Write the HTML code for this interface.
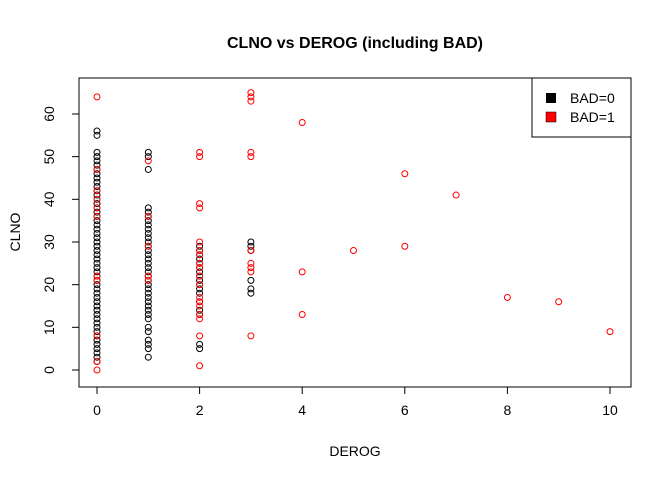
<!DOCTYPE html>
<html><head><meta charset="utf-8"><style>
body{margin:0;background:#fff}
svg{display:block;font-family:"Liberation Sans",Arial,sans-serif}
</style></head><body>
<svg id="chart" width="672" height="480">
<rect width="672" height="480" fill="#fff"/>
<text x="355" y="48" text-anchor="middle" font-size="16" font-weight="bold">CLNO vs DEROG (including BAD)</text>
<rect x="79" y="78" width="552" height="309" fill="none" stroke="#000"/>
<g id="xaxis"></g>
<g id="yaxis"></g>
<text x="355" y="456" text-anchor="middle" font-size="14">DEROG</text>
<text transform="translate(20,232) rotate(-90)" text-anchor="middle" font-size="14">CLNO</text>
<g id="points"></g>
<g>
<rect x="532" y="78" width="99" height="59" fill="#fff" stroke="#000"/>
<g><rect x="546" y="93" width="10" height="10" fill="#000"/><text x="570" y="103" font-size="14">BAD=0</text></g>
<g><rect x="546" y="112" width="10" height="10" fill="#f00" stroke="#000" stroke-width="0.5"/><text x="570" y="122" font-size="14">BAD=1</text></g>
</g>
</svg>
<script>
const xTicks=[0,2,4,6,8,10];
const yTicks=[0,10,20,30,40,50,60];
const black0=[2,3,4,5,6,7,8,9,10,11,12,13,14,15,16,17,18,19,20,21,22,23,24,25,26,27,28,29,30,31,32,33,34,35,36,37,38,39,40,41,42,43,44,45,46,47,48,49,50,51,55,56];
const red0=[0,2,8,21,22,36,38,40,42,47,64];
const black1=[3,5,6,7,9,10,12,13,14,15,16,17,18,19,20,21,22,23,24,25,26,27,28,29,30,31,32,33,34,35,36,37,38,47,50,51];
const red1=[21,22,29,36,49];
const black2=[5,6,13,14,16,18,19,20,21,22,23,24,25,26,27,28,29];
const red2=[1,8,12,13,15,16,17,20,22,24,25,27,28,30,38,39,50,51];
const black3=[18,19,21,28,29,30];
const red3=[8,23,24,25,28,50,51,63,64,65];
const blackOther=[];
const redOtherX=[4,4,4,5,6,6,7,8,9,10];
const redOtherY=[13,23,58,28,29,46,41,17,16,9];
const NS="http://www.w3.org/2000/svg";
const xs=v=>97+v*51.3, ys=v=>370-v*4.267;
const xa=document.getElementById('xaxis'), ya=document.getElementById('yaxis'), pg=document.getElementById('points');
function mk(t,a,p){const e=document.createElementNS(NS,t);for(const k in a)e.setAttribute(k,a[k]);p.appendChild(e);return e;}
mk('line',{x1:xs(0),x2:xs(10),y1:387,y2:387,stroke:'#000'},xa);
xTicks.forEach(t=>{mk('line',{x1:xs(t),x2:xs(t),y1:387,y2:394,stroke:'#000'},xa);
const tx=mk('text',{x:xs(t),y:415,'text-anchor':'middle','font-size':14},xa);tx.textContent=t;

});
mk('line',{x1:79,x2:79,y1:ys(0),y2:ys(60),stroke:'#000'},ya);
yTicks.forEach(t=>{mk('line',{x1:72,x2:79,y1:ys(t),y2:ys(t),stroke:'#000'},ya);
const tx=mk('text',{x:0,y:0,'text-anchor':'middle','font-size':14,transform:`translate(54,${ys(t)}) rotate(-90)`},ya);tx.textContent=t;

});
function pt(x,y,c){const e=mk('circle',{cx:xs(x),cy:ys(y),r:3,fill:'none',stroke:c,'stroke-width':1},pg);

}
black0.forEach(v=>pt(0,v,'#000'));black1.forEach(v=>pt(1,v,'#000'));black2.forEach(v=>pt(2,v,'#000'));black3.forEach(v=>pt(3,v,'#000'));
red0.forEach(v=>pt(0,v,'#f00'));red1.forEach(v=>pt(1,v,'#f00'));red2.forEach(v=>pt(2,v,'#f00'));red3.forEach(v=>pt(3,v,'#f00'));
redOtherX.forEach((x,i)=>pt(x,redOtherY[i],'#f00'));
</script>
</body></html>
